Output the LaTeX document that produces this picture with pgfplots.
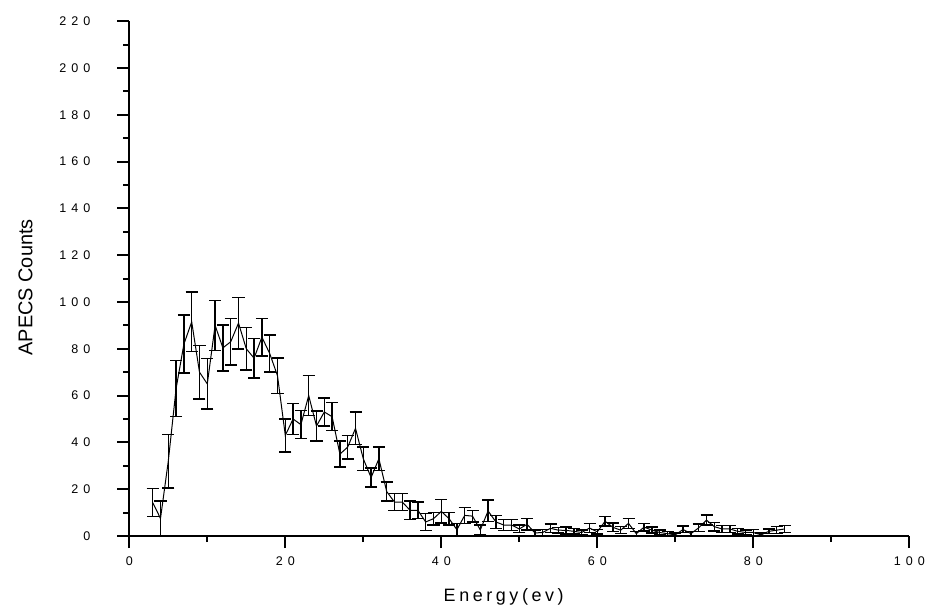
\documentclass[border=0pt]{standalone}
\usepackage{pgfplots}
\usepackage{pgfplotstable}
\pgfplotsset{compat=1.18}
\usepackage{fontspec}
\setmainfont{Liberation Sans}
\newfontfamily\tickfont[LetterSpace=40]{Liberation Sans}
\newfontfamily\labelfont[LetterSpace=20]{Liberation Sans}

% energy (eV), counts, error
\pgfplotstableread{
x y err
3 14.3 6
4 7.5 7.5
5 32 11.4
6 63 12
7 82 12.4
8 91.5 12.7
9 70 11.5
10 65 10.8
11 90 10.7
12 80.4 9.8
13 83 10
14 91 11
15 80 9
16 76 8.5
17 85 8
18 78 8
19 68.5 7.5
20 43 7
21 50 6.6
22 47.6 6
23 60 8.5
24 47 6.5
25 53 6
26 51 6
27 35 5.5
28 38 5
29 46 7
30 33 5
31 25 4
32 33 5
33 19 4
34 14.5 3.7
35 14.5 3.7
36 11 4
37 11 3.5
38 6 3.7
39 7.4 2.6
40 10.5 5
41 7.4 2.6
42 2.7 2.7
43 8.8 3.4
44 8.5 2.5
45 2.6 2
46 10.7 4.6
47 6 2.8
48 4.7 2.4
49 4.7 2.4
50 3 1.6
51 5 2.5
52 1.3 1.3
53 1.5 1.2
54 3.3 1.9
55 2.5 1.2
56 2.4 1.5
57 2 1.2
58 1.5 1
59 3.4 2
60 1.8 1
61 6.3 2
62 3.7 1.8
63 2.5 1.5
64 5.4 2.1
65 1 1
66 3.8 1.6
67 2.5 1.3
68 1.5 1
69 1 1
70 0.5 0.8
71 2.8 1.4
72 1 1
73 3.5 1.6
74 6.8 2.2
75 4 1.8
76 3 1.5
77 3 1.5
78 2 1.2
79 1.5 1
80 1.5 1.2
81 0.5 0.7
82 2 1
83 2.5 1.5
84 3 1.5
}\apecs

\begin{document}
\begin{tikzpicture}
\useasboundingbox (-64.65bp,-38.5bp) rectangle (402.85bp,268bp);
\begin{axis}[
    anchor=origin, at={(0,0)},
    x=3.9bp, y=1.17bp,
    xmin=0, xmax=100, ymin=0, ymax=220,
    axis x line*=bottom, axis y line*=left,
    axis line style={line width=1bp, black},
    xtick={0,20,...,100}, ytick={0,20,...,220},
    minor x tick num=1, minor y tick num=1,
    tick align=outside,
    major tick length=6bp, minor tick length=3bp,
    every tick/.style={black, line width=1bp},
    /pgf/number format/assume math mode=true,
    ticklabel style={font=\tickfont\fontsize{6.3}{7}\selectfont, black},
    yticklabel style={xshift=-10bp},
    xticklabel style={yshift=-1bp},
    xlabel={\labelfont Energy(ev)},
    ylabel={APECS Counts},
    xlabel style={font=\fontsize{9}{11}\selectfont, at={(axis description cs:0.48,0)}, anchor=center, yshift=-30.5bp},
    ylabel style={font=\fontsize{10}{12}\selectfont, at={(axis description cs:-0.133,0.483)}, anchor=center},
]
\addplot[black, line width=0.5bp, no markers,
    error bars/.cd, y dir=both, y explicit,
    error bar style={line width=0.75bp, black},
    error mark options={rotate=90, black, mark size=3bp, line width=0.75bp}]
    table[x=x, y=y, y error=err] {\apecs};
\end{axis}
\end{tikzpicture}
\end{document}
